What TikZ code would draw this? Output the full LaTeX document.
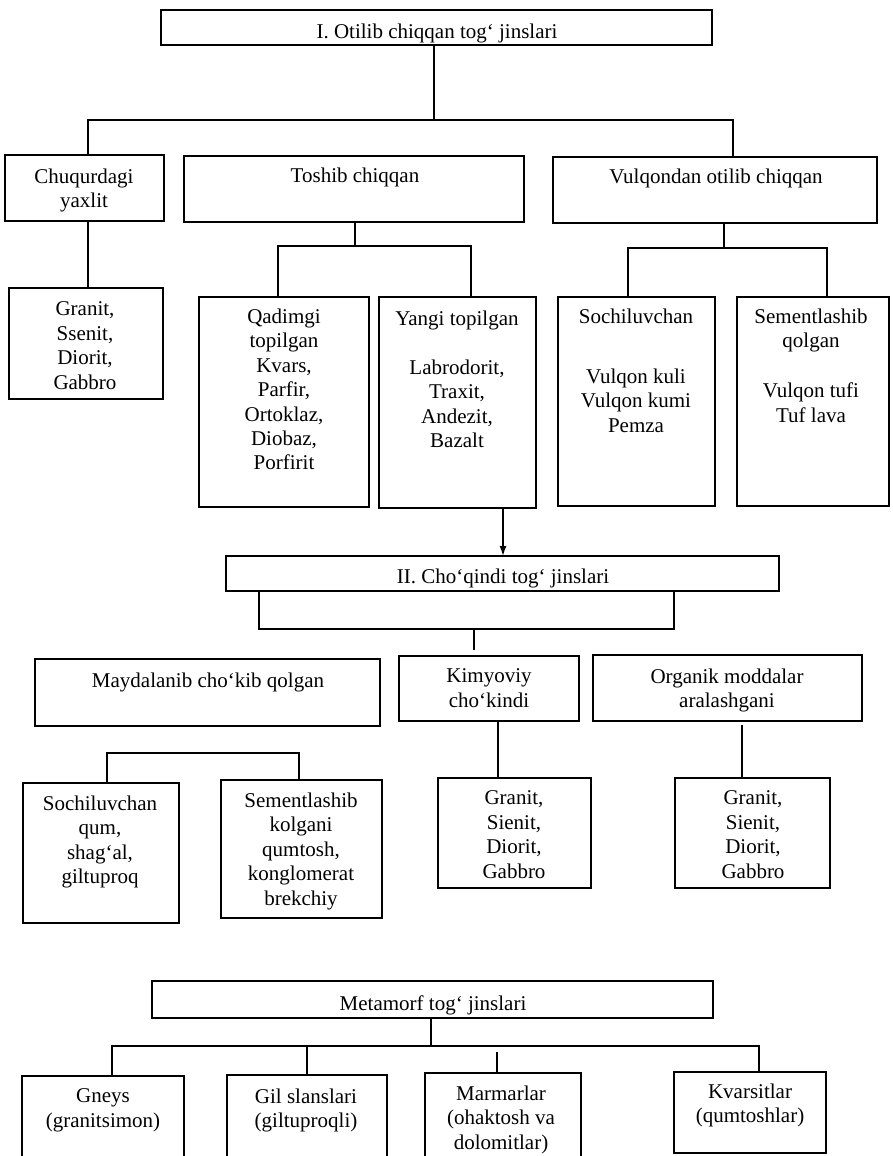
\documentclass[tikz,border=0pt]{standalone}
\usepackage{fontspec}
\setmainfont{Liberation Serif}
\usetikzlibrary{arrows.meta,calc}

% box from its corners (x1,y1)-(x2,y2), y growing downwards
\newcommand\boxnode[5]{%
  \node[bx, minimum width={(#4-#2)*1pt}, minimum height={(#5-#3)*1pt}]
    (#1) at ({(#2+#4)/2},{(#3+#5)/2}) {};}
% centred text block; #3 is the baseline of its first line
\newcommand\txtnode[4]{%
  \node[tx] (#1) at (#2,{#3-14.3}) {#4};}

\begin{document}
\begin{tikzpicture}[x=1pt,y=-1pt,
  bx/.style={draw, line width=1.5pt, inner sep=0pt, outer sep=0pt},
  tx/.style={anchor=north, align=center, inner sep=0pt,
    font=\fontsize{21}{24.4}\selectfont},
  ln/.style={line width=1.4pt}]
\useasboundingbox[fill=white] (0,0) rectangle (893,1156);

% ---- I. Otilib chiqqan ----
\boxnode{top}{161}{10}{712}{45}
\txtnode{ttop}{437}{38}{I. Otilib chiqqan tog‘ jinslari}

\boxnode{chuq}{5}{155}{164}{221}
\txtnode{tchuq}{84}{183}{Chuqurdagi\\yaxlit}
\boxnode{tosh}{184}{156}{524}{222}
\txtnode{ttosh}{355}{182}{Toshib chiqqan}
\boxnode{vulq}{553}{157}{877}{223}
\txtnode{tvulq}{716}{183}{Vulqondan otilib chiqqan}

\boxnode{granA}{9}{288}{163}{399}
\txtnode{tgranA}{85}{316}{Granit,\\Ssenit,\\Diorit,\\Gabbro}
\boxnode{qad}{199}{297}{369}{507}
\txtnode{tqad}{284}{323}{Qadimgi\\topilgan\\Kvars,\\Parfir,\\Ortoklaz,\\Diobaz,\\Porfirit}
\boxnode{yangi}{379}{297}{536}{508}
\txtnode{tyangi}{457}{325}{Yangi topilgan\\[24.4pt]Labrodorit,\\Traxit,\\Andezit,\\Bazalt}
\boxnode{sochA}{558}{297}{715}{506}
\txtnode{tsochA}{636}{323}{Sochiluvchan\\[35.6pt]Vulqon kuli\\Vulqon kumi\\Pemza}
\boxnode{semA}{737}{297}{889}{506}
\txtnode{tsemA}{811}{323}{Sementlashib\\qolgan\\[25.6pt]Vulqon tufi\\Tuf lava}

\coordinate (j1) at (434,120);
\coordinate (j1L) at (88,120);
\coordinate (j1R) at (733,120);
\draw[ln] (top.south -| j1) -- (j1);
\draw[ln] (chuq.north -| j1L) -- (j1L) -- (j1R) -- (vulq.north -| j1R);
\draw[ln] (chuq.south -| j1L) -- (granA.north -| j1L);

\coordinate (j2) at (355,246);
\coordinate (j2L) at (278,246);
\coordinate (j2R) at (471,246);
\draw[ln] (tosh.south -| j2) -- (j2);
\draw[ln] (qad.north -| j2L) -- (j2L) -- (j2R) -- (yangi.north -| j2R);

\coordinate (j3) at (724,248);
\coordinate (j3L) at (628,248);
\coordinate (j3R) at (827,248);
\draw[ln] (vulq.south -| j3) -- (j3);
\draw[ln] (sochA.north -| j3L) -- (j3L) -- (j3R) -- (semA.north -| j3R);

% ---- II. Cho'qindi ----
\boxnode{cho}{226}{556}{779}{591}
\txtnode{tcho}{503}{583}{II. Cho‘qindi tog‘ jinslari}

\coordinate (arr) at (503,530);
\draw[ln, -{Latex[length=10pt,width=7pt]}] (yangi.south -| arr) -- (cho.north -| arr);

\boxnode{mayd}{35}{659}{380}{726}
\txtnode{tmayd}{208}{687}{Maydalanib cho‘kib qolgan}
\boxnode{kim}{399}{656}{579}{721}
\txtnode{tkim}{489}{683}{Kimyoviy\\cho‘kindi}
\boxnode{org}{593}{655}{862}{721}
\txtnode{torg}{727}{683}{Organik moddalar\\aralashgani}

\coordinate (k1L) at (259,629);
\coordinate (k1R) at (674,629);
\coordinate (k1) at (474,629);
\coordinate (k1e) at (474,650);
\draw[ln] (cho.south -| k1L) -- (k1L) -- (k1R) -- (cho.south -| k1R);
\draw[ln] (k1) -- (k1e);

\boxnode{sochB}{23}{783}{179}{923}
\txtnode{tsochB}{100}{810}{Sochiluvchan\\qum,\\shag‘al,\\giltuproq}
\boxnode{semB}{221}{780}{382}{918}
\txtnode{tsemB}{301}{807}{Sementlashib\\kolgani\\qumtosh,\\konglomerat\\brekchiy}
\boxnode{granB}{438}{778}{591}{888}
\txtnode{tgranB}{514}{805}{Granit,\\Sienit,\\Diorit,\\Gabbro}
\boxnode{granC}{675}{778}{830}{888}
\txtnode{tgranC}{753}{805}{Granit,\\Sienit,\\Diorit,\\Gabbro}

\coordinate (s1L) at (107,753);
\coordinate (s1R) at (299,753);
\draw[ln] (sochB.north -| s1L) -- (s1L) -- (s1R) -- (semB.north -| s1R);

\coordinate (m1) at (498,750);
\coordinate (m2) at (742,750);
\draw[ln] (kim.south -| m1) -- (granB.north -| m1);
\draw[ln] ($(org.south -| m2)+(0,4)$) -- (granC.north -| m2);

% ---- Metamorf ----
\boxnode{meta}{152}{981}{713}{1018}
\txtnode{tmeta}{433}{1010}{Metamorf tog‘ jinslari}

\boxnode{gneys}{22}{1076}{184}{1157}
\txtnode{tgneys}{103}{1103}{Gneys\\(granitsimon)}
\boxnode{gil}{227}{1075}{387}{1157}
\txtnode{tgil}{306}{1103}{Gil slanslari\\(giltuproqli)}
\boxnode{marm}{425}{1073}{581}{1157}
\txtnode{tmarm}{501}{1100}{Marmarlar\\(ohaktosh va\\dolomitlar)}
\boxnode{kvar}{674}{1072}{826}{1153}
\txtnode{tkvar}{750}{1098}{Kvarsitlar\\(qumtoshlar)}

\coordinate (t1) at (431,1046);
\coordinate (t1a) at (112,1046);
\coordinate (t1b) at (307,1046);
\coordinate (t1c) at (497,1046);
\coordinate (t1d) at (759,1046);
\draw[ln] (meta.south -| t1) -- (t1);
\draw[ln] (gneys.north -| t1a) -- (t1a) -- (t1d) -- (kvar.north -| t1d);
\draw[ln] (t1b) -- (gil.north -| t1b);
\draw[ln] ($(t1c)+(0,6)$) -- (marm.north -| t1c);
\end{tikzpicture}
\end{document}
